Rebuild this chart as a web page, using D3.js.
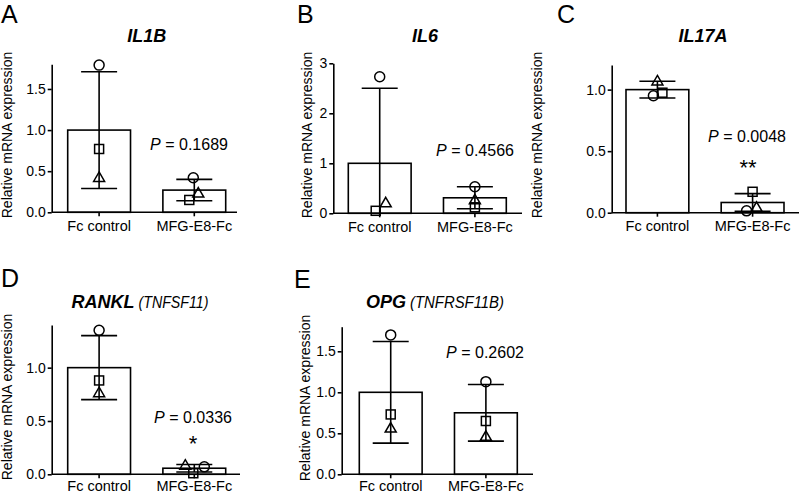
<!DOCTYPE html>
<html>
<head>
<meta charset="utf-8">
<script src="https://cdn.jsdelivr.net/npm/d3@7"></script>
<style>
  html, body { margin: 0; padding: 0; background: #fff; }
  svg { display: block; font-family: "Liberation Sans", Arial, Helvetica, sans-serif; }
</style>
</head>
<body>
<svg id="chart" width="800" height="494"></svg>
<script>
// ---------------- data ----------------
const categories = ["Fc control", "MFG-E8-Fc"];
const panelLetters = ["A", "B", "C", "D", "E"];
const genes = ["IL1B", "IL6", "IL17A", "RANKL", "OPG"];
const geneAliases = ["", "", "", "(TNFSF11)", "(TNFRSF11B)"];
const meanValues = [[1.0, 0.27], [1.0, 0.31], [1.0, 0.083], [1.0, 0.057], [1.0, 0.75]];
const sdValues = [[0.71, 0.13], [1.5, 0.22], [0.068, 0.072], [0.30, 0.035], [0.62, 0.345]];
const circleValues = [[1.79, 0.42], [2.73, 0.53], [0.95, 0.015], [1.35, 0.07], [1.70, 1.13]];
const squareValues = [[0.77, 0.15], [0.05, 0.12], [0.975, 0.17], [0.88, 0.01], [0.73, 0.65]];
const triangleValues = [[0.43, 0.24], [0.22, 0.28], [1.075, 0.048], [0.77, 0.09], [0.57, 0.47]];
const pValues = ["0.1689", "0.4566", "0.0048", "0.0336", "0.2602"];
const significance = ["", "", "**", "*", ""];
const yMaxValues = [1.8, 3, 1.2, 1.4, 1.8];
const yTickValues = [[0, 0.5, 1, 1.5], [0, 1, 2, 3], [0, 0.5, 1], [0, 0.5, 1], [0, 0.5, 1, 1.5]];
const yTickFormats = [".1f", "d", ".1f", ".1f", ".1f"];
const yAxisTitle = "Relative mRNA expression";

// ---------------- layout (pixels) ----------------
const layout = [
  { x0: 51.7, x1: 237, yb: 212.3, yt: 64.3, bar0: 67.7, letter: [1, 22.7], title: [146.7, 41.5], ylab: [12, 135], p: [189, 150], star: null, xpad: 4, aliasLen: 0 },
  { x0: 333.3, x1: 522, yb: 213.3, yt: 63.3, bar0: 348.3, letter: [297, 22.7], title: [425, 41.5], ylab: [312, 135], p: [475, 156], star: null, xpad: 4, aliasLen: 0 },
  { x0: 611.7, x1: 799, yb: 212.7, yt: 65, bar0: 626, letter: [557, 22.7], title: [703, 41.5], ylab: [542, 135], p: [747, 142], star: [748, 174.5], xpad: 4, aliasLen: 0 },
  { x0: 51.7, x1: 240, yb: 474.3, yt: 325, bar0: 67.7, letter: [1, 286.7], title: [140, 308], ylab: [12, 397], p: [193, 423], star: [193, 450.5], xpad: 2, aliasLen: 70 },
  { x0: 341.7, x1: 533, yb: 474.3, yt: 326.7, bar0: 359.3, letter: [294, 287.7], title: [435, 308], ylab: [310, 398], p: [485, 358], star: null, xpad: 2, aliasLen: 94 }
];
// horizontal symbol offsets [circle, square, triangle] per bar
const jitter = [
  [[0, 0, 0], [-1, -5, 4]],
  [[0, -4, 6], [0, 0, 0]],
  [[-4, 5, 0], [-6, 0, 4]],
  [[0, 0, 0], [10, -1, -9]],
  [[0, 0, 0], [0, 0, 0]]
];

const svg = d3.select("#chart");
const SW = 1.6;

panelLetters.forEach((letter, i) => {
  const L = layout[i];
  const g = svg.append("g");

  const y = d3.scaleLinear().domain([0, yMaxValues[i]]).range([L.yb, L.yt]);
  const x = d3.scaleBand().domain(categories).range([L.bar0, L.bar0 + 158]).paddingInner(0.34).paddingOuter(0);

  // panel letter
  g.append("text").attr("x", L.letter[0]).attr("y", L.letter[1])
    .attr("font-size", 25).attr("fill", "#000").text(letter);

  // title
  const t = g.append("text").attr("x", L.title[0]).attr("y", L.title[1])
    .attr("text-anchor", "middle").attr("fill", "#000");
  t.append("tspan").attr("font-size", 18).attr("font-weight", "bold").attr("font-style", "italic").text(genes[i]);
  if (geneAliases[i]) {
    t.append("tspan").attr("dx", 4).attr("font-size", 17).attr("font-style", "italic")
      .attr("textLength", L.aliasLen).attr("lengthAdjust", "spacingAndGlyphs").text(geneAliases[i]);
  }

  // y axis title
  g.append("text").attr("transform", `translate(${L.ylab[0]},${L.ylab[1]}) rotate(-90)`)
    .attr("text-anchor", "middle").attr("font-size", 14).attr("fill", "#000").text(yAxisTitle);

  // bars
  g.selectAll("rect.bar").data(categories).join("rect")
    .attr("class", "bar")
    .attr("x", d => x(d))
    .attr("width", x.bandwidth())
    .attr("y", (d, j) => y(meanValues[i][j]))
    .attr("height", (d, j) => y(0) - y(meanValues[i][j]))
    .attr("fill", "#fff").attr("stroke", "#000").attr("stroke-width", SW);

  // error bars
  categories.forEach((c, j) => {
    const cx = x(c) + x.bandwidth() / 2;
    const m = meanValues[i][j], s = sdValues[i][j];
    const hi = m + s, lo = Math.max(0, m - s);
    g.append("line").attr("x1", cx).attr("x2", cx).attr("y1", y(lo)).attr("y2", y(hi))
      .attr("stroke", "#000").attr("stroke-width", SW);
    g.append("line").attr("x1", cx - 18).attr("x2", cx + 18).attr("y1", y(hi)).attr("y2", y(hi))
      .attr("stroke", "#000").attr("stroke-width", SW);
    if (m - s > 0) {
      g.append("line").attr("x1", cx - 18).attr("x2", cx + 18).attr("y1", y(lo)).attr("y2", y(lo))
        .attr("stroke", "#000").attr("stroke-width", SW);
    }
  });

  // axes
  const yAxis = d3.axisLeft(y).tickValues(yTickValues[i]).tickFormat(d3.format(yTickFormats[i]))
    .tickSize(4).tickPadding(2).tickSizeOuter(0);
  const ya = g.append("g").attr("transform", `translate(${L.x0},0)`).call(yAxis);
  ya.select(".domain").attr("stroke-width", SW);
  ya.selectAll(".tick line").attr("stroke-width", SW);
  ya.selectAll(".tick text").attr("font-size", 14).attr("font-family", null).attr("fill", "#000");

  const xAxis = d3.axisBottom(x).tickSize(4).tickPadding(L.xpad).tickSizeOuter(0);
  const xa = g.append("g").attr("transform", `translate(0,${L.yb})`).call(xAxis);
  xa.select(".domain").remove();
  xa.selectAll(".tick line").attr("stroke-width", SW);
  xa.selectAll(".tick text").attr("font-size", 14.5).attr("font-family", null).attr("fill", "#000");
  g.append("line").attr("x1", L.x0).attr("x2", L.x1).attr("y1", L.yb).attr("y2", L.yb)
    .attr("stroke", "#000").attr("stroke-width", SW);

  // symbols
  categories.forEach((c, j) => {
    const cx = x(c) + x.bandwidth() / 2;
    const jt = jitter[i][j];
    g.append("circle").attr("cx", cx + jt[0]).attr("cy", y(circleValues[i][j])).attr("r", 5)
      .attr("fill", "none").attr("stroke", "#000").attr("stroke-width", 1.5);
    g.append("rect").attr("x", cx + jt[1] - 4.5).attr("y", y(squareValues[i][j]) - 4.5)
      .attr("width", 9).attr("height", 9)
      .attr("fill", "none").attr("stroke", "#000").attr("stroke-width", 1.5);
    const tx = cx + jt[2], ty = y(triangleValues[i][j]);
    g.append("path").attr("d", `M${tx},${ty - 5}L${tx + 5.5},${ty + 4.5}L${tx - 5.5},${ty + 4.5}Z`)
      .attr("fill", "none").attr("stroke", "#000").attr("stroke-width", 1.5);
  });

  // P value
  const pt = g.append("text").attr("x", L.p[0]).attr("y", L.p[1]).attr("text-anchor", "middle")
    .attr("font-size", 16).attr("fill", "#000");
  pt.append("tspan").attr("font-style", "italic").text("P");
  pt.append("tspan").text(" = " + pValues[i]);

  if (significance[i] && L.star) {
    g.append("text").attr("x", L.star[0]).attr("y", L.star[1]).attr("text-anchor", "middle")
      .attr("font-size", 22).attr("fill", "#000").text(significance[i]);
  }
});
</script>
</body>
</html>
